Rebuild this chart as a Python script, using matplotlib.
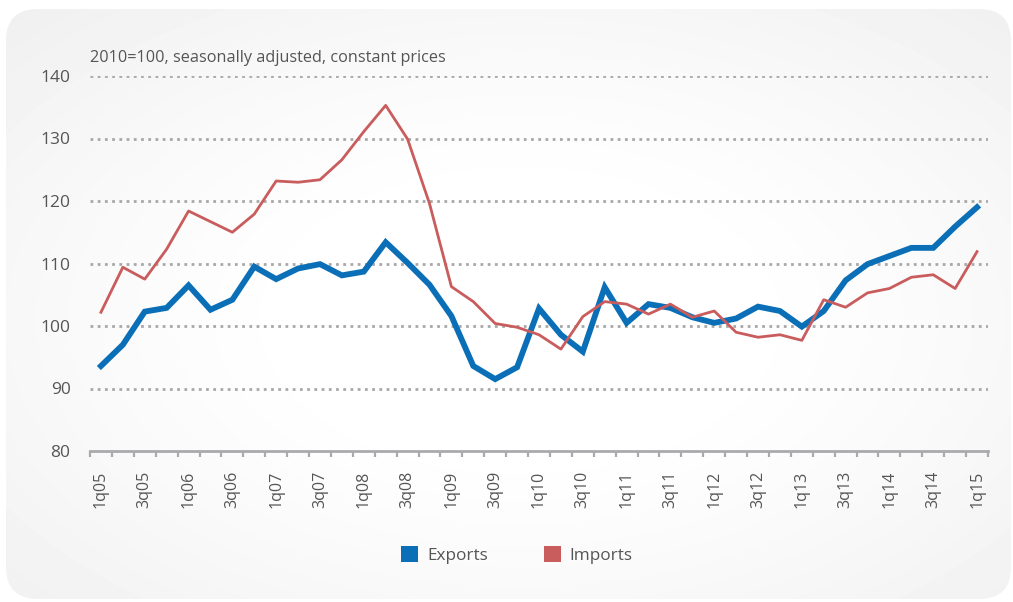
"""
Exports vs imports volume index, quarterly 1q05-1q15 (2010=100).
Saves out.png.
"""

import matplotlib
matplotlib.use("Agg")
import matplotlib.pyplot as plt
import numpy as np
from matplotlib.patches import FancyBboxPatch, Patch

# ---------------------------------------------------------------------------
# Data
# ---------------------------------------------------------------------------

QUARTERS = [f"{q}q{y:02d}" for y in range(5, 15) for q in (1, 2, 3, 4)] + ["1q15"]

EXPORTS = [
    93.6, 97.0, 102.3, 102.9, 106.5, 102.6, 104.2, 109.5, 107.5, 109.2,
    109.9, 108.1, 108.7, 113.4, 110.1, 106.6, 101.6, 93.6, 91.5, 93.4,
    102.8, 98.6, 95.9, 106.2, 100.5, 103.5, 102.9, 101.4, 100.5, 101.2,
    103.1, 102.4, 99.9, 102.4, 107.3, 109.9, 111.2, 112.5, 112.5, 115.9,
    119.0,
]

IMPORTS = [
    102.2, 109.4, 107.5, 112.3, 118.4, 116.7, 115.0, 117.9, 123.2, 123.0,
    123.4, 126.6, 131.1, 135.3, 129.9, 119.6, 106.3, 103.9, 100.4, 99.8,
    98.6, 96.3, 101.5, 103.9, 103.5, 101.9, 103.5, 101.4, 102.4, 99.0,
    98.2, 98.6, 97.7, 104.2, 103.0, 105.3, 106.0, 107.8, 108.2, 106.0,
    111.9,
]

Y_TICKS = [80, 90, 100, 110, 120, 130, 140]
SUBTITLE = "2010=100, seasonally adjusted, constant prices"

BLUE = "#0a6fb7"
RED = "#c95c5c"
TEXT = "#555555"
GRID = "#a8a8a8"

plt.rcParams["font.family"] = ["Open Sans", "DejaVu Sans"]

W, H = 1013, 602
fig = plt.figure(figsize=(W / 100, H / 100), dpi=100)
fig.patch.set_facecolor("white")

# --- background panel: rounded rect with soft radial gradient -------------
bg = fig.add_axes([0, 0, 1, 1], zorder=-10)
bg.set_xlim(0, W)
bg.set_ylim(H, 0)
bg.axis("off")
yy, xx = np.mgrid[0:H, 0:W]
r = np.sqrt(((xx - 520) / 560) ** 2 + ((yy - 320) / 330) ** 2)
shade = 1.0 - 0.065 * np.clip(r - 0.35, 0, 1.0) ** 1.3
img = bg.imshow(shade, cmap="gray", vmin=0, vmax=1, extent=(0, W, H, 0),
                interpolation="bilinear")
panel = FancyBboxPatch((6, 9), W - 6 - 2, H - 9 - 3,
                       boxstyle="round,pad=0,rounding_size=32",
                       facecolor="none", edgecolor="none",
                       transform=bg.transData)
bg.add_patch(panel)
img.set_clip_path(panel)

# --- main axes -----------------------------------------------------------
left, right, top, bottom = 90, 988, 76, 451
ax = fig.add_axes([left / W, 1 - bottom / H, (right - left) / W, (bottom - top) / H])
ax.patch.set_alpha(0)

x = np.arange(len(QUARTERS))
ax.plot(x, EXPORTS, color=BLUE, linewidth=4.2, solid_joinstyle="miter",
        zorder=3, label="Exports")
ax.plot(x, IMPORTS, color=RED, linewidth=2.0, zorder=4, label="Imports")

ax.set_xlim(-0.5, len(QUARTERS) - 0.5)
ax.set_ylim(Y_TICKS[0], Y_TICKS[-1])
ax.set_yticks(Y_TICKS)
ax.tick_params(axis="y", length=0, pad=14, labelsize=12.5, labelcolor=TEXT)

for v in Y_TICKS[1:]:
    ax.axhline(v, color=GRID, linewidth=2.0, linestyle=(0, (1.0, 1.6)), zorder=1)

for side in ("top", "right", "left"):
    ax.spines[side].set_visible(False)
ax.spines["bottom"].set_color("#aaaaad")
ax.spines["bottom"].set_linewidth(2.0)

# minor ticks at quarter boundaries, labels every other quarter
ax.set_xticks(np.arange(-0.5, len(QUARTERS), 1.0), minor=True)
ax.tick_params(axis="x", which="minor", length=4, width=1.6, color="#aaaaad")
ax.set_xticks(x[::2])
ax.set_xticklabels(QUARTERS[::2], rotation=90, fontsize=11.5, color=TEXT)
ax.tick_params(axis="x", which="major", length=0, pad=14)

fig.text(left / W, 1 - 58 / H, SUBTITLE, fontsize=11.7, color=TEXT,
         ha="left", va="center")

handles = [Patch(facecolor=BLUE, edgecolor="none", label="Exports"),
           Patch(facecolor=RED, edgecolor="none", label="Imports")]
fig.legend(handles=handles, loc="center", bbox_to_anchor=(517 / W, 1 - 555 / H),
           ncol=2, frameon=False, fontsize=12.3, handlelength=1.0,
           handleheight=1.0, handletextpad=0.5, columnspacing=3.3,
           labelcolor=TEXT)

fig.savefig("out.png", dpi=100)
